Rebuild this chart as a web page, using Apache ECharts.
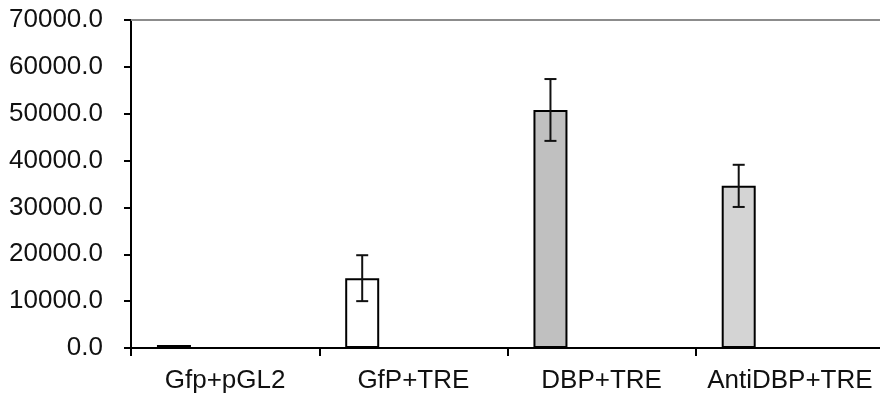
<!DOCTYPE html>
<html>
<head>
<meta charset="utf-8">
<script src="https://cdn.jsdelivr.net/npm/echarts@6/dist/echarts.min.js"></script>
<style>html,body{margin:0;padding:0;background:#fff}#c{width:880px;height:397px}</style>
</head>
<body>
<div id="c"></div>
<script>
const categories = ['Gfp+pGL2', 'GfP+TRE', 'DBP+TRE', 'AntiDBP+TRE'];
const values = [650, 14900, 50800, 34600];
const errors = [0, 4900, 6600, 4500];
const barColors = ['#000000', '#ffffff', '#c0c0c0', '#d4d4d4'];
const yTicks = { min: 0, max: 70000, interval: 10000 };

const BAR_W = 34;
const GAP = 2.01; // barGap ratio
const OFFSET = -(BAR_W + BAR_W * GAP) / 2;

const font = 'Liberation Sans, Arial, sans-serif';
const chart = echarts.init(document.getElementById('c'), null, { renderer: 'canvas' });
chart.setOption({
  animation: false,
  grid: { left: 131, right: -4, top: 20, bottom: 49, outerBoundsMode: 'none' },
  xAxis: [{
    type: 'category',
    data: categories,
    axisLine: { lineStyle: { color: '#000', width: 2 } },
    axisTick: { show: true, length: 8, lineStyle: { color: '#000', width: 2 } },
    axisLabel: { color: '#111', fontSize: 26, fontFamily: font, margin: 20, interval: 0 }
  }, {
    type: 'category',
    position: 'top',
    data: categories,
    axisLine: { lineStyle: { color: '#8c8c8c', width: 2 } },
    axisTick: { show: false },
    axisLabel: { show: false }
  }],
  yAxis: {
    type: 'value',
    min: yTicks.min, max: yTicks.max, interval: yTicks.interval,
    splitLine: { show: false },
    axisLine: { show: true, lineStyle: { color: '#000', width: 2 } },
    axisTick: { show: true, length: 7, lineStyle: { color: '#000', width: 2 } },
    axisLabel: { color: '#111', fontSize: 26, fontFamily: font, margin: 28,
      formatter: v => v.toFixed(1) }
  },
  series: [{
    type: 'bar',
    barWidth: BAR_W,
    barGap: (GAP * 100) + '%',
    data: values.map((v, i) => ({ value: v, itemStyle: { color: barColors[i] } })),
    itemStyle: { borderColor: '#000', borderWidth: 2 }
  }, {
    type: 'bar',
    barWidth: BAR_W,
    data: values.map(() => null)
  }, {
    type: 'custom',
    data: values.map((v, i) => [i, v, errors[i]]),
    z: 10,
    renderItem: function (params, api) {
      const i = api.value(0), v = api.value(1), e = api.value(2);
      if (!e) return null;
      const top = api.coord([i, v + e]);
      const bot = api.coord([i, v - e]);
      const x = top[0] + OFFSET;
      const hw = 6;
      const style = { stroke: '#111', lineWidth: 2 };
      return {
        type: 'group',
        children: [
          { type: 'line', shape: { x1: x, y1: top[1], x2: x, y2: bot[1] }, style },
          { type: 'line', shape: { x1: x - hw, y1: top[1], x2: x + hw, y2: top[1] }, style },
          { type: 'line', shape: { x1: x - hw, y1: bot[1], x2: x + hw, y2: bot[1] }, style }
        ]
      };
    }
  }]
});
</script>
</body>
</html>
